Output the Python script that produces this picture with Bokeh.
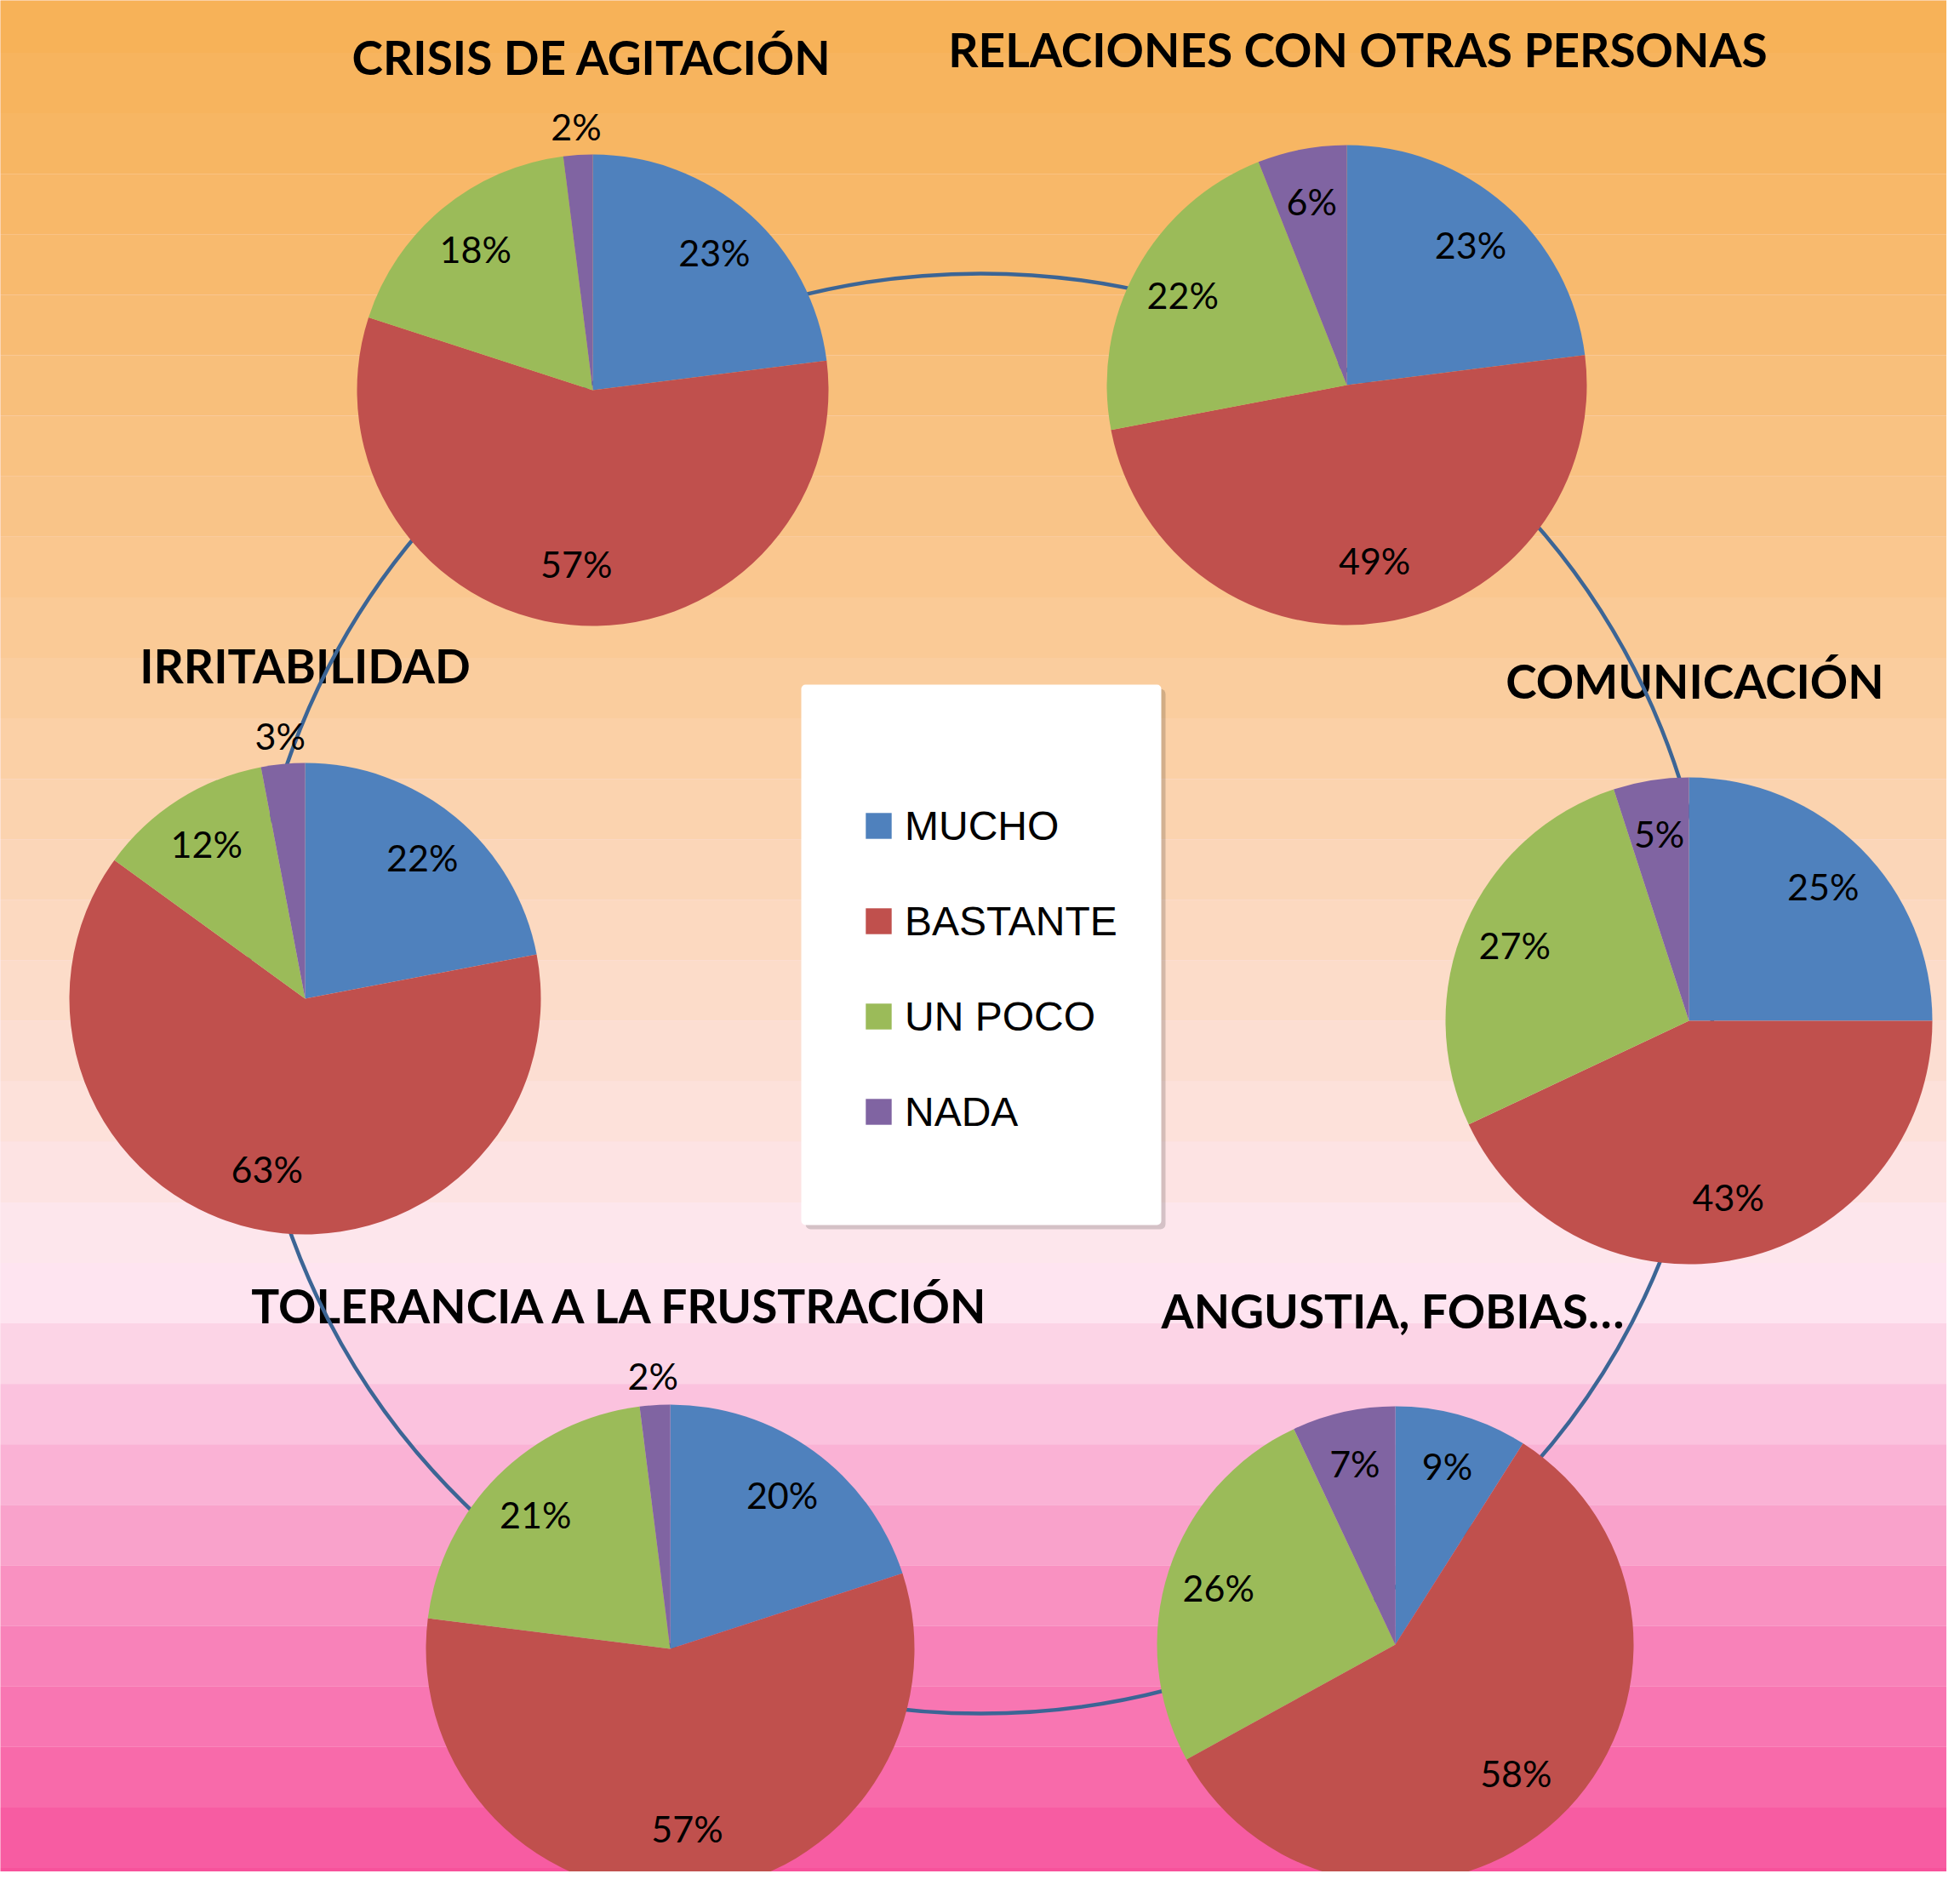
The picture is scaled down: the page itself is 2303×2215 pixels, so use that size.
import numpy as np
from bokeh.plotting import figure
from bokeh.models import Range1d, ColumnDataSource, Legend, LegendItem, BoxAnnotation
from bokeh.core.properties import value
from bokeh.embed import file_html
from bokeh.resources import INLINE

# ---------------- data ----------------
categories = ["MUCHO", "BASTANTE", "UN POCO", "NADA"]
titles = ["CRISIS DE AGITACIÓN", "RELACIONES CON OTRAS PERSONAS", "COMUNICACIÓN",
          "IRRITABILIDAD", "TOLERANCIA A LA FRUSTRACIÓN", "ANGUSTIA, FOBIAS…"]
crisis = [23, 57, 18, 2]
relaciones = [23, 49, 22, 6]
comunicacion = [25, 43, 27, 5]
irritabilidad = [22, 63, 12, 3]
tolerancia = [20, 57, 21, 2]
angustia = [9, 58, 26, 7]
series = [crisis, relaciones, comunicacion, irritabilidad, tolerancia, angustia]

# ---------------- layout / style ----------------
colors = ["#4F81BD", "#C0504D", "#9BBB59", "#8064A2"]
REF_H = 2215
W, H = 2287, 2199


def Y(y):
    return REF_H - y


pie_x = [696, 1582, 1984, 358, 787, 1639]
pie_y = [458, 452, 1199, 1173, 1937, 1932]
pie_r = [277, 282, 286, 277, 287, 280]
title_x = [695, 1595, 1991, 358, 730, 1636]
title_mid = [66, 57, 799, 781, 1533, 1539]

p = figure(width=W, height=H, x_range=Range1d(0, W), y_range=Range1d(REF_H - H, REF_H),
           output_backend="svg", toolbar_location=None,
           x_axis_location=None, y_axis_location=None, min_border=0)
p.outline_line_color = None
p.grid.visible = False
p.background_fill_color = "#FDE4EF"
p.border_fill_color = "#FDE4EF"

# background bands (gradient look)
anchor_y = [26, 380, 760, 1140, 1450, 1518, 1590, 1662, 1732, 1803, 1874, 1945, 2016, 2087, 2158, 2229]
anchor_c = [(247, 178, 88), (248, 188, 116), (250, 203, 152), (252, 219, 198), (253, 230, 236),
            (254, 228, 240), (252, 212, 230), (251, 194, 222), (250, 178, 213), (249, 162, 203),
            (249, 145, 193), (248, 130, 185), (248, 118, 178), (248, 106, 170), (247, 92, 162),
            (247, 82, 155)]
edges = -9.6 + 71.1 * np.arange(0, 33)
tops, bots, cols = [], [], []
for i in range(len(edges) - 1):
    yc = 0.5 * (edges[i] + edges[i + 1])
    rgb = [int(round(np.interp(yc, anchor_y, [c[k] for c in anchor_c]))) for k in range(3)]
    tops.append(Y(edges[i]))
    bots.append(Y(edges[i + 1]))
    cols.append("#%02x%02x%02x" % tuple(rgb))
p.quad(left=-10, right=2400, top=tops, bottom=bots, fill_color=cols, line_color=None)

# titles
p.text(x=title_x, y=[Y(v) for v in title_mid], text=titles, text_font=value("Lato"),
       text_font_style="bold", text_font_size="55px", text_align="center",
       text_baseline="middle", text_color="black")

# connecting ring
p.ellipse(x=1152, y=Y(1167), width=1720, height=1692, fill_alpha=0,
          line_color="#3C6595", line_width=4.5)

# pies
renderers = []
lab_x, lab_y, lab_t = [], [], []
for vals, cx, cy, r in zip(series, pie_x, pie_y, pie_r):
    v = np.array(vals, dtype=float)
    frac = v / v.sum()
    cum = np.concatenate([[0], np.cumsum(frac)])
    start = np.pi / 2 - 2 * np.pi * cum[:-1]
    end = np.pi / 2 - 2 * np.pi * cum[1:]
    src = ColumnDataSource(dict(start=start, end=end, color=colors, cat=categories))
    rr = p.wedge(x=cx, y=Y(cy), radius=r, start_angle="start", end_angle="end",
                 direction="clock", fill_color="color", line_color=None, source=src)
    renderers.append(rr)
    mid = np.pi / 2 - 2 * np.pi * (cum[:-1] + cum[1:]) / 2
    for val, m in zip(vals, mid):
        if val <= 3:
            f = 1.12
        elif val >= 40:
            f = 0.74
        else:
            f = 0.78
        lab_x.append(cx + f * r * np.cos(m))
        lab_y.append(Y(cy) + f * r * np.sin(m))
        lab_t.append(f"{val}%")

p.text(x=lab_x, y=lab_y, text=lab_t, text_font=value("Lato"), text_font_size="43px",
       text_align="center", text_baseline="middle", text_color="black")

# legend box with shadow
p.add_layout(BoxAnnotation(left=946, right=1369, bottom=Y(1444), top=Y(809),
                           fill_color="black", fill_alpha=0.16, line_color=None, border_radius=6))
p.add_layout(BoxAnnotation(left=941, right=1364, bottom=Y(1439), top=Y(804),
                           fill_color="white", fill_alpha=1.0, line_color=None, border_radius=5))

items = [LegendItem(label=c, renderers=[renderers[0]], index=i) for i, c in enumerate(categories)]
legend = Legend(items=items, location=(1013, 863), orientation="vertical",
                glyph_width=38, glyph_height=38, label_height=60, spacing=52,
                label_standoff=12, padding=0, margin=0,
                label_text_font="Liberation Sans", label_text_font_size="48px",
                label_text_color="black", background_fill_alpha=0, border_line_alpha=0)
p.add_layout(legend)

open("out.html", "w").write(file_html(p, INLINE))
